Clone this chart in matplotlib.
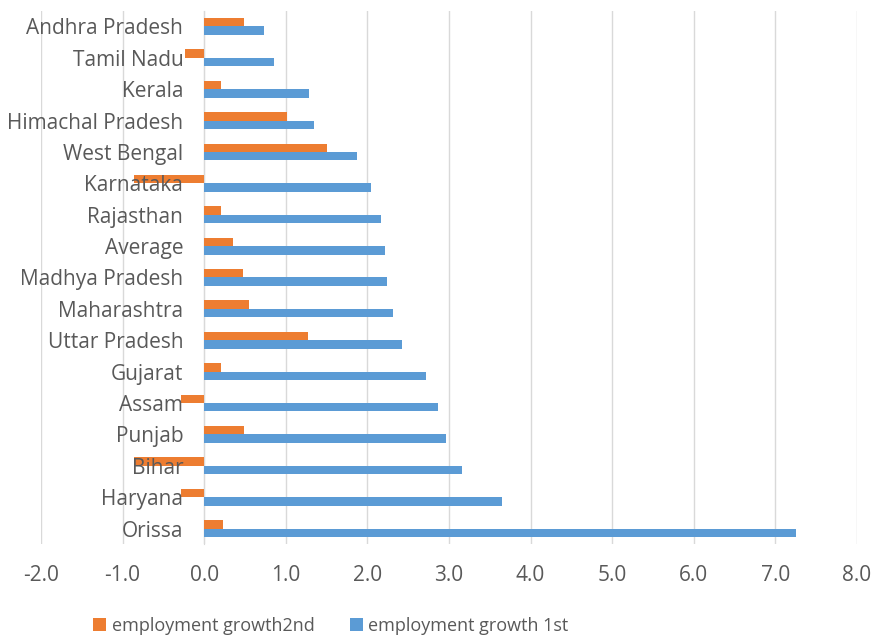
import matplotlib
matplotlib.use("Agg")
import matplotlib.pyplot as plt
from matplotlib.patches import Patch
import numpy as np

# States, listed top to bottom as they appear on the chart
states = ["Andhra Pradesh", "Tamil Nadu", "Kerala", "Himachal Pradesh",
          "West Bengal", "Karnataka", "Rajasthan", "Average",
          "Madhya Pradesh", "Maharashtra", "Uttar Pradesh", "Gujarat",
          "Assam", "Punjab", "Bihar", "Haryana", "Orissa"]

growth_2nd = [0.49, -0.23, 0.21, 1.02, 1.51, -0.86, 0.20, 0.35,
              0.47, 0.55, 1.27, 0.21, -0.28, 0.49, -0.86, -0.28, 0.23]

growth_1st = [0.73, 0.85, 1.29, 1.34, 1.87, 2.04, 2.17, 2.22,
              2.24, 2.32, 2.42, 2.72, 2.87, 2.97, 3.16, 3.65, 7.25]

x_ticks = [-2.0, -1.0, 0.0, 1.0, 2.0, 3.0, 4.0, 5.0, 6.0, 7.0, 8.0]

ORANGE = "#ED7D31"
BLUE = "#5B9BD5"
TEXT = "#595959"
GRID = "#D9D9D9"

plt.rcParams["font.family"] = ["Open Sans", "DejaVu Sans"]

fig = plt.figure(figsize=(8.82, 6.35), dpi=100)
ax = fig.add_axes([0.0465, 0.143, 0.925, 0.84])

pos = np.arange(len(states))
h = 0.27
ax.barh(pos - h / 2, growth_2nd, height=h, color=ORANGE, zorder=2)
ax.barh(pos + h / 2, growth_1st, height=h, color=BLUE, zorder=2)

ax.set_ylim(len(states) - 0.5, -0.5)
ax.set_xlim(-2.0, 8.0)
ax.set_xticks(x_ticks)
ax.set_xticklabels([f"{t:.1f}" for t in x_ticks])
ax.set_yticks(pos)
ax.set_yticklabels(states)

# vertical gridlines sit under the bars, category names sit above them
ax.grid(axis="x", color=GRID, linewidth=1.0)
ax.xaxis.set_zorder(1)
ax.yaxis.set_zorder(3)
for side in ["top", "right", "bottom"]:
    ax.spines[side].set_visible(False)
ax.spines["left"].set_position(("data", 0))
ax.spines["left"].set_color(GRID)
ax.spines["left"].set_zorder(1.5)

ax.tick_params(axis="y", length=0, pad=15, labelsize=15, labelcolor=TEXT)
ax.tick_params(axis="x", length=0, pad=15, labelsize=15, labelcolor=TEXT)

handles = [Patch(facecolor=ORANGE, edgecolor="none"),
           Patch(facecolor=BLUE, edgecolor="none")]
fig.legend(handles, ["employment growth2nd", "employment growth 1st"],
           loc="center left", bbox_to_anchor=(0.106, 0.014), ncol=2,
           frameon=False, fontsize=13, labelcolor=TEXT,
           handlelength=0.7, handleheight=0.7, handletextpad=0.3,
           columnspacing=2.0, borderpad=0, borderaxespad=0)

fig.savefig("out.png", dpi=100)
